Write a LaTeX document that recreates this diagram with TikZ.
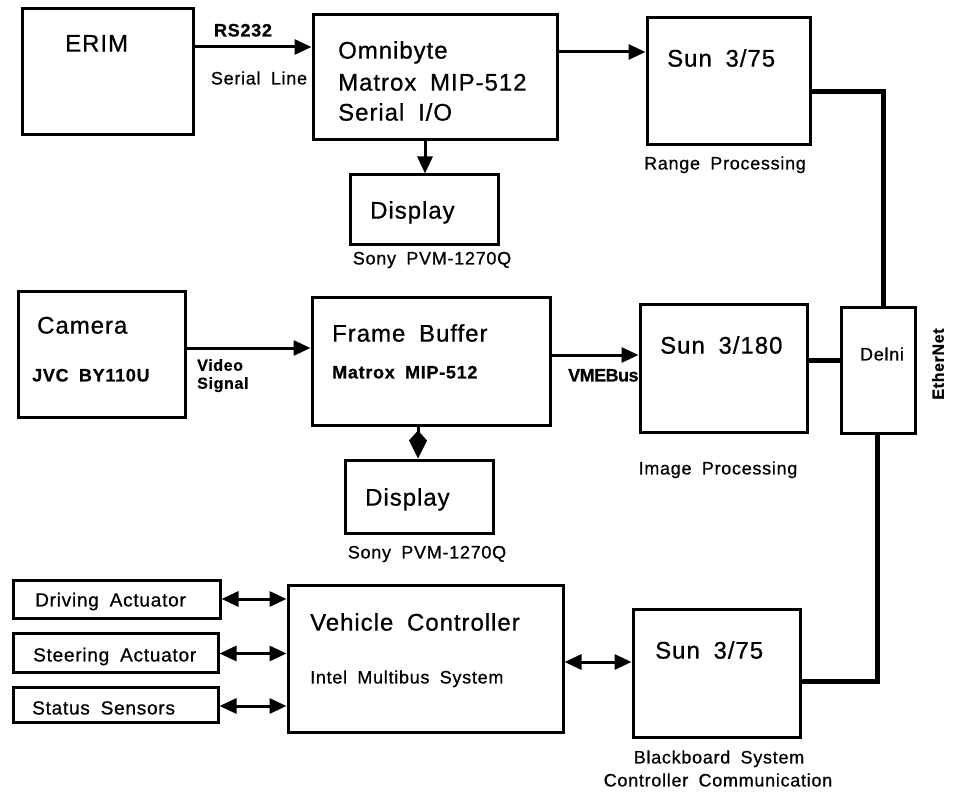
\documentclass[tikz,border=0pt]{standalone}
\usepackage{fontspec}
\setmainfont{Liberation Sans}[LetterSpace=4,WordSpace=1.8,FakeBold=0.7]
\usetikzlibrary{arrows.meta,calc}
\tikzset{
  box/.style={draw, line width=3pt, inner sep=0pt},
  big/.style={font=\fontsize{24}{28}\selectfont, text height=17.2pt, text depth=0pt, inner sep=0pt, anchor=west},
  med/.style={font=\fontsize{18}{21}\selectfont, text height=12.9pt, text depth=0pt, inner sep=0pt},
  medb/.style={font=\fontsize{18}{21}\selectfont\bfseries, text height=12.9pt, text depth=0pt, inner sep=0pt},
  smb/.style={font=\fontsize{16}{19}\selectfont\bfseries, text height=11.5pt, text depth=0pt, inner sep=0pt},
  arr/.style={line width=3pt, -{Triangle[length=17pt,width=15pt]}},
  darr/.style={line width=3pt, {Triangle[length=17pt,width=15pt]}-{Triangle[length=17pt,width=15pt]}},
  kitearr/.style={line width=3pt, -{Kite[length=28pt,width=18pt,inset=10pt]}},
  enet/.style={line width=5pt}
}
\begin{document}
\begin{tikzpicture}[x=1pt,y=-1pt]
\path[use as bounding box, fill=white] (0,0) rectangle (953,794);

% boxes
\node[box, minimum width=171pt, minimum height=126pt] (erim) at (107.5,72) {};
\node[box, minimum width=244pt, minimum height=125pt] (omni) at (435,77.5) {};
\node[box, minimum width=163pt, minimum height=127pt] (sun1) at (728.5,81.5) {};
\node[box, minimum width=148pt, minimum height=70pt] (disp1) at (424,210) {};
\node[box, minimum width=74pt, minimum height=125pt] (delni) at (878,370.5) {};
\node[box, minimum width=167pt, minimum height=125pt] (camera) at (101.5,354.5) {};
\node[box, minimum width=238pt, minimum height=127pt] (frame) at (431,361.5) {};
\node[box, minimum width=167pt, minimum height=127pt] (sun2) at (723.5,368.5) {};
\node[box, minimum width=148pt, minimum height=73pt] (disp2) at (419,496.5) {};
\node[box, minimum width=207pt, minimum height=38pt] (drive) at (116.5,599) {};
\node[box, minimum width=205pt, minimum height=39pt] (steer) at (115.5,652.5) {};
\node[box, minimum width=205pt, minimum height=35pt] (status) at (115.5,704.5) {};
\node[box, minimum width=275pt, minimum height=147pt] (veh) at (425.5,658.5) {};
\node[box, minimum width=167pt, minimum height=128pt] (sun3) at (716.5,673) {};

% texts
\node[big] (terim) at (65,43) {ERIM};
\node[big] (tomni1) at (338,50) {Omnibyte};
\node[big] (tomni2) at (338,82) {Matrox MIP-512};
\node[big] (tomni3) at (338,112) {Serial I/O};
\node[big] (tsun1) at (667,58) {Sun 3/75};
\node[med] (trange) at (725,163) {Range Processing};
\node[big] (tdisp1) at (370,210) {Display};
\node[med] (tsony1) at (432,258) {Sony PVM-1270Q};
\node[medb] (trs) at (243,30) {RS232};
\node[med] (tserial) at (259,78) {Serial Line};

\node[big] (tcam) at (37,325) {Camera};
\node[medb, anchor=west] (tjvc) at (32,375) {JVC BY110U};
\node[smb, anchor=west] (tvideo) at (197,365) {Video};
\node[smb, anchor=west] (tsignal) at (197,383) {Signal};
\node[big] (tframe) at (332,333) {Frame Buffer};
\node[medb, anchor=west] (tmatrox) at (332,372) {Matrox MIP-512};
\node[medb, anchor=west, font=\fontsize{18}{21}\selectfont\bfseries\addfontfeatures{LetterSpace=-3}] (tvme) at (568,375) {VMEBus};
\node[big] (tsun2) at (660,345) {Sun 3/180};
\node[med] (timage) at (718,468) {Image Processing};
\node[big] (tdisp2) at (365,497) {Display};
\node[med] (tsony2) at (427,552) {Sony PVM-1270Q};
\node[med] (tdelni) at (882,354) {Delni};
\node[smb, rotate=90] (tenet) at (938,364) {EtherNet};

\node[med, anchor=west, font=\fontsize{19}{22}\selectfont] (tdrive) at (35,600) {Driving Actuator};
\node[med, anchor=west, font=\fontsize{19}{22}\selectfont] (tsteer) at (33,655) {Steering Actuator};
\node[med, anchor=west, font=\fontsize{19}{22}\selectfont] (tstatus) at (32,708) {Status Sensors};
\node[big] (tveh) at (310,622) {Vehicle Controller};
\node[med, anchor=west] (tintel) at (310,677) {Intel Multibus System};
\node[big] (tsun3) at (655,650) {Sun 3/75};
\node[med] (tbb) at (719,757) {Blackboard System};
\node[med] (tcc) at (718,780) {Controller Communication};

% connectors
\draw[arr] ([yshift=25pt]erim.east) -- ([yshift=25pt]erim.east -| omni.west);
\draw[arr] ([yshift=25.5pt]omni.east) -- ([yshift=25.5pt]omni.east -| sun1.west);
\draw[arr] ([xshift=-10pt]omni.south) -- ([xshift=-10pt]omni.south |- disp1.north);
\draw[arr] ([yshift=6.5pt]camera.east) -- ([yshift=6.5pt]camera.east -| frame.west);
\draw[arr] ([yshift=6.5pt]frame.east) -- ([yshift=6.5pt]frame.east -| sun2.west);
\draw[kitearr] ([xshift=-13pt]frame.south) -- ([xshift=-13pt]frame.south |- disp2.north);
\draw[darr] (drive.east) -- (drive.east -| veh.west);
\draw[darr] ([yshift=-1pt]steer.east) -- ([yshift=-1pt]steer.east -| veh.west);
\draw[darr] ([yshift=-1.5pt]status.east) -- ([yshift=-1.5pt]status.east -| veh.west);
\draw[darr] ([yshift=-3.5pt]veh.east) -- ([yshift=-3.5pt]veh.east -| sun3.west);

% ethernet
\draw[enet] ([yshift=-10.5pt]sun1.east) -| ([xshift=5pt]delni.north);
\draw[enet] ([yshift=8.5pt]sun2.east) -- ([yshift=8.5pt]sun2.east -| delni.west);
\draw[enet] ([yshift=-8pt]sun3.east) -| ([xshift=-1pt]delni.south);
\end{tikzpicture}
\end{document}
